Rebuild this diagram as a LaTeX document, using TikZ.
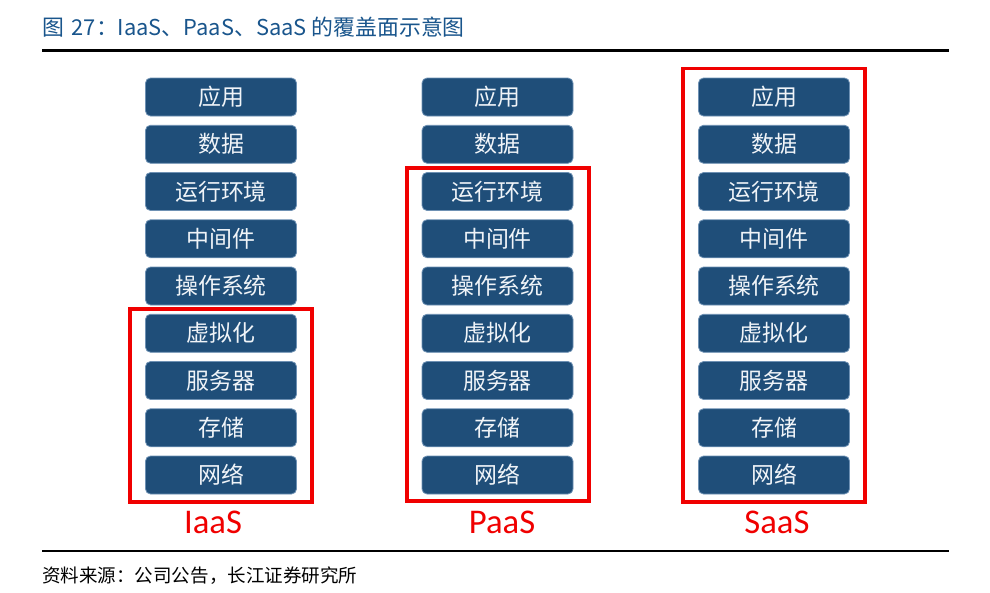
\documentclass[tikz,border=0pt]{standalone}
\usepackage{fontspec}
\newfontfamily\cjk{Noto Sans CJK SC}
\newfontfamily\lbl{Carlito}
\definecolor{boxblue}{RGB}{31,78,121}
\definecolor{boxedge}{RGB}{110,145,180}
\definecolor{titleblue}{RGB}{25,85,140}
\definecolor{boxtext}{RGB}{240,244,248}
\definecolor{redline}{RGB}{240,0,0}
\tikzset{
  layer/.style={draw=boxedge, line width=0.6pt, fill=boxblue, rounded corners=3.75pt,
    minimum width=113.25pt, minimum height=28.5pt, inner sep=0pt,
    text=boxtext, font=\cjk\fontsize{17.2}{18}\selectfont},
  redbox/.style={draw=redline, line width=2.4pt},
  svclabel/.style={text=redline, font=\lbl\fontsize{26}{28}\selectfont, inner sep=0pt},
  rule/.style={line width=1.6pt, black}
}
\begin{document}
\begin{tikzpicture}[x=0.75pt,y=-0.75pt]
\useasboundingbox (0,0) rectangle (990,593);
\fill[white] (0,0) rectangle (990,593);
% title
\node[anchor=west, inner sep=0pt, text=titleblue, font=\cjk\fontsize{16.4}{18}\selectfont] (title) at (42,27) {图\hspace{0.35em}27：IaaS、PaaS、SaaS 的覆盖面示意图};
\coordinate (tr1) at (42,50.5);
\coordinate (tr2) at (949,50.5);
\draw[rule] (tr1) -- (tr2);
\coordinate (br1) at (42,551);
\coordinate (br2) at (949,551);
\draw[rule] (br1) -- (br2);
\node[anchor=west, inner sep=0pt, font=\cjk\fontsize{13.9}{15}\selectfont] (src) at (42,576) {资料来源：公司公告，长江证券研究所};
% columns
\foreach \c/\cx in {a/221, b/497.5, c/774}{
  \foreach \t [count=\i from 0] in {应用,数据,运行环境,中间件,操作系统,虚拟化,服务器,存储,网络}{
    \node[layer] (\c\i) at (\cx, 97+47.25*\i) {\t};
  }
}
% red frames
\draw[redbox] (130,309) rectangle (312,502);
\draw[redbox] (407,168) rectangle (589,501);
\draw[redbox] (683,68.5) rectangle (865,502);
% labels
\node[svclabel] (iaas) at (213,522) {IaaS};
\node[svclabel] (paas) at (502,522) {PaaS};
\node[svclabel] (saas) at (777,522) {SaaS};
\end{tikzpicture}
\end{document}
